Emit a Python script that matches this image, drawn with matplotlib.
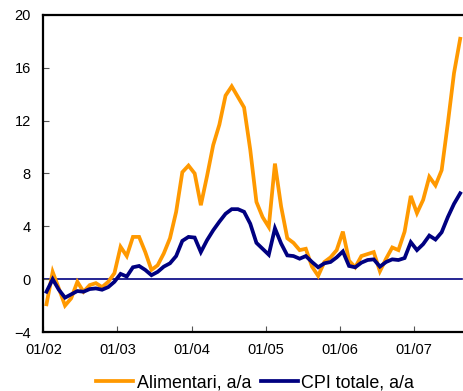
import matplotlib
matplotlib.use("Agg")
import matplotlib.pyplot as plt

# Monthly year-on-year inflation, Jan 2002 - Aug 2007
alimentari = [-1.9, 0.55, -0.7, -2.0, -1.45, -0.2, -0.95, -0.45, -0.3, -0.6, -0.2, 0.45,
              2.45, 1.75, 3.2, 3.2, 2.05, 0.7, 1.05, 1.95, 3.1, 5.1, 8.1, 8.6,
              8.0, 5.6, 7.8, 10.15, 11.7, 13.9, 14.6, 13.8, 13.0, 9.8, 5.85, 4.7,
              3.95, 8.75, 5.5, 3.1, 2.75, 2.2, 2.3, 0.95, 0.25, 1.3, 1.65, 2.2,
              3.6, 1.4, 0.9, 1.75, 1.9, 2.05, 0.6, 1.55, 2.4, 2.2, 3.6, 6.3,
              5.0, 6.0, 7.75, 7.1, 8.25, 11.8, 15.6, 18.2]
cpi_totale = [-0.95, 0.0, -0.8, -1.4, -1.15, -0.9, -0.95, -0.75, -0.7, -0.8, -0.6, -0.2,
              0.4, 0.2, 0.9, 1.0, 0.7, 0.3, 0.55, 0.95, 1.2, 1.75, 2.9, 3.2,
              3.15, 2.05, 2.95, 3.7, 4.35, 4.95, 5.3, 5.3, 5.1, 4.2, 2.75, 2.3,
              1.85, 3.85, 2.7, 1.8, 1.75, 1.55, 1.75, 1.3, 0.9, 1.2, 1.3, 1.65,
              2.1, 1.0, 0.9, 1.25, 1.45, 1.5, 0.95, 1.3, 1.5, 1.45, 1.6, 2.8,
              2.2, 2.65, 3.3, 3.0, 3.55, 4.7, 5.7, 6.5]
year_labels = ["01/02", "01/03", "01/04", "01/05", "01/06", "01/07"]
y_ticks = [-4, 0, 4, 8, 12, 16, 20]
series_names = ["Alimentari, a/a", "CPI totale, a/a"]

plt.rcParams["font.family"] = ["Liberation Sans", "DejaVu Sans"]
plt.rcParams["font.size"] = 10.5

fig = plt.figure(figsize=(4.63, 3.91), dpi=100)
ax = fig.add_axes([43.4 / 463, 1 - 332 / 391, (464.5 - 43.4) / 463, (332 - 15) / 391])

months = list(range(len(alimentari)))
ax.axhline(0, color="#000080", lw=1.2, zorder=1, xmax=(461.5 - 43.4) / (464.5 - 43.4))
l1, = ax.plot(months, alimentari, color="#FF9900", lw=2.7, solid_joinstyle="miter", zorder=2)
l2, = ax.plot(months, cpi_totale, color="#000080", lw=2.7, solid_joinstyle="miter", zorder=3)

ax.set_xlim(-0.5, len(alimentari) - 0.5 + 0.2)
ax.set_ylim(y_ticks[0], y_ticks[-1])
ax.set_yticks(y_ticks)
ax.set_xticks([-0.5 + 12 * k for k in range(len(year_labels))])
ax.set_xticklabels(year_labels)
ax.tick_params(direction="in", length=4, width=0.8, color="#555555", pad=8)
ax.tick_params(axis="y", pad=9)

for side in ["left", "bottom", "top"]:
    ax.spines[side].set_linewidth(1.6)
    ax.spines[side].set_color("black")
ax.spines["right"].set_visible(False)

fig.legend([l1, l2], series_names, ncol=2, loc="center",
           bbox_to_anchor=(0.551, 1 - 383 / 391), frameon=False,
           handlelength=2.05, handletextpad=0.22, columnspacing=0.55,
           borderpad=0.0, fontsize=12.9)

fig.savefig("out.png", dpi=100)
